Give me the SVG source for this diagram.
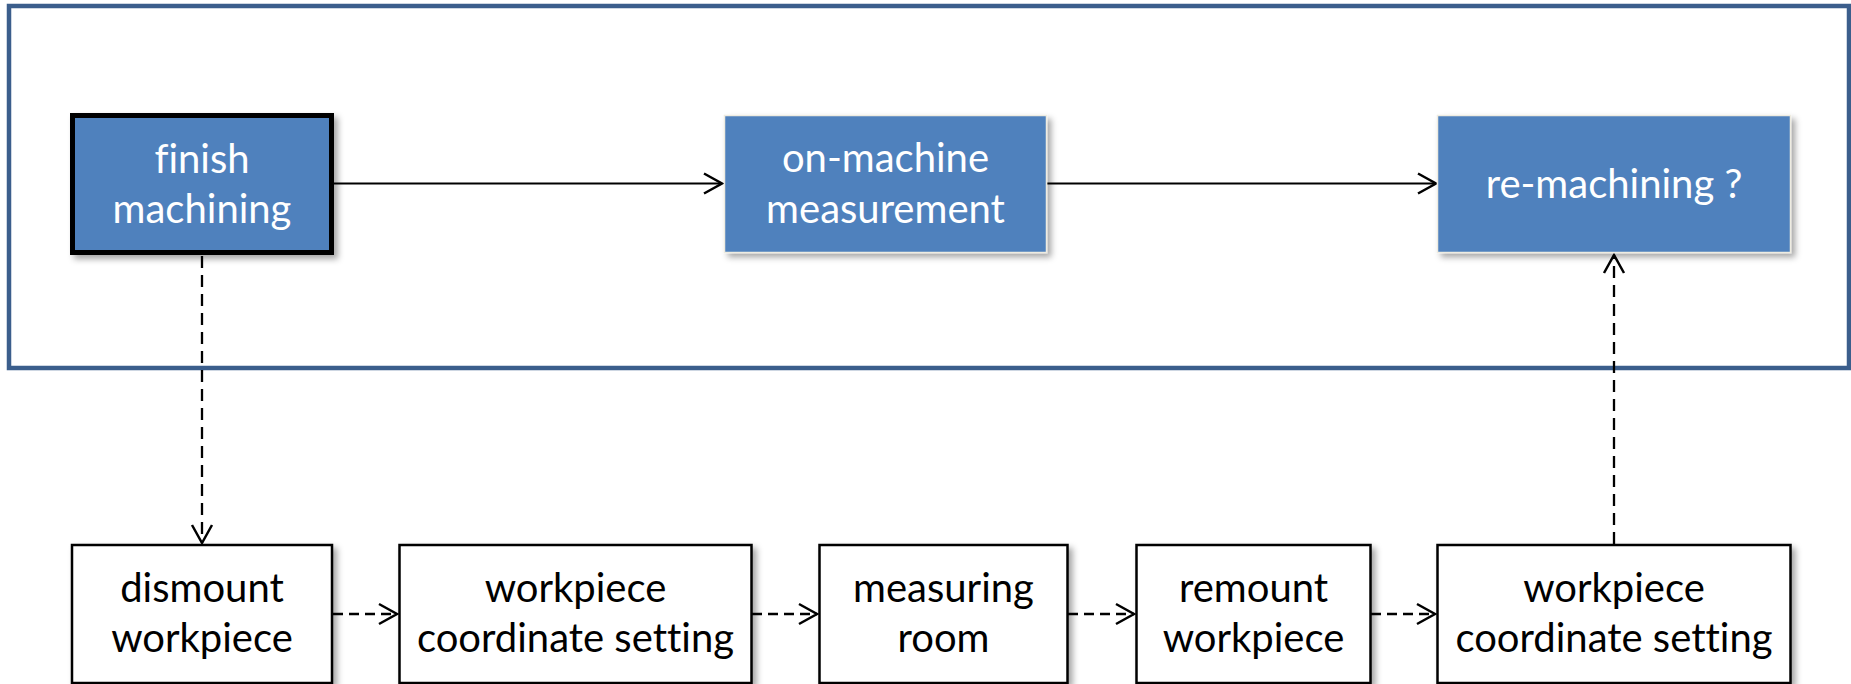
<svg xmlns="http://www.w3.org/2000/svg" width="1851" height="684" viewBox="0 0 1851 684">
<style>
.frame{fill:none;stroke:#3B5E8C;stroke-width:4.5}
.blue{fill:#4F81BD;stroke:#EEECE1;stroke-width:1.5;filter:url(#sh)}
.blueb{fill:#4F81BD;stroke:#000;stroke-width:5;filter:url(#sh)}
.white{fill:#fff;stroke:#000;stroke-width:2.5;filter:url(#sh)}
.tw{font-family:Lato,"Open Sans",sans-serif;font-size:40px;fill:#fff;text-anchor:middle;font-variant-ligatures:none}
.tb{font-family:Lato,"Open Sans",sans-serif;font-size:40px;fill:#000;text-anchor:middle;font-variant-ligatures:none}
.solid{fill:none;stroke:#000;stroke-width:2.2;marker-end:url(#ah)}
.dh{fill:none;stroke:#000;stroke-width:2.5;stroke-dasharray:10 6;marker-end:url(#ah)}
.dv{fill:none;stroke:#000;stroke-width:2.3;stroke-dasharray:12 7;marker-end:url(#ah)}
</style>
<defs>
<filter id="sh" x="-10%" y="-10%" width="125%" height="130%">
<feDropShadow dx="4" dy="4" stdDeviation="3" flood-color="#000" flood-opacity="0.35"/>
</filter>
<marker id="ah" markerUnits="userSpaceOnUse" markerWidth="24" markerHeight="24" viewBox="-20 -12 24 24" refX="0" refY="0" orient="auto">
<path d="M-18,-10 L0,0 L-18,10" fill="none" stroke="#000" stroke-width="2.5"/>
</marker>
</defs>
<rect width="1851" height="684" fill="#fff"/>
<rect class="frame" x="9" y="6" width="1840" height="362"/>
<g id="connectors">
<line class="solid" x1="334" y1="183.5" x2="722" y2="183.5"/>
<line class="solid" x1="1047" y1="183.5" x2="1436" y2="183.5"/>
<line class="dv" x1="202" y1="256" x2="202" y2="543"/>
<line class="dv" x1="1614" y1="544" x2="1614" y2="255"/>
<line class="dh" x1="333" y1="614" x2="397" y2="614"/>
<line class="dh" x1="752" y1="614" x2="817" y2="614"/>
<line class="dh" x1="1068" y1="614" x2="1134" y2="614"/>
<line class="dh" x1="1371" y1="614" x2="1435" y2="614"/>
</g>
<g id="finish">
<rect class="blueb" x="72.5" y="115.5" width="259" height="137"/>
<text class="tw" x="202" y="173">finish</text>
<text class="tw" x="202" y="223">machining</text>
</g>
<g id="onmachine">
<rect class="blue" x="724.5" y="115.5" width="322" height="137"/>
<text class="tw" x="885.5" y="172">on-machine</text>
<text class="tw" x="885.5" y="223">measurement</text>
</g>
<g id="remachining">
<rect class="blue" x="1437.5" y="115.5" width="353" height="137"/>
<text class="tw" x="1614" y="198">re-machining ?</text>
</g>
<g id="dismount">
<rect class="white" x="72" y="545" width="260" height="138"/>
<text class="tb" x="202" y="602">dismount</text>
<text class="tb" x="202" y="652">workpiece</text>
</g>
<g id="coord1">
<rect class="white" x="399.5" y="545" width="352" height="138"/>
<text class="tb" x="575.5" y="602">workpiece</text>
<text class="tb" x="575.5" y="652">coordinate setting</text>
</g>
<g id="measuring">
<rect class="white" x="819.5" y="545" width="248" height="138"/>
<text class="tb" x="943.5" y="602">measuring</text>
<text class="tb" x="943.5" y="652">room</text>
</g>
<g id="remount">
<rect class="white" x="1136.5" y="545" width="234" height="138"/>
<text class="tb" x="1253.5" y="602">remount</text>
<text class="tb" x="1253.5" y="652">workpiece</text>
</g>
<g id="coord2">
<rect class="white" x="1437.5" y="545" width="353" height="138"/>
<text class="tb" x="1614" y="602">workpiece</text>
<text class="tb" x="1614" y="652">coordinate setting</text>
</g>
</svg>
